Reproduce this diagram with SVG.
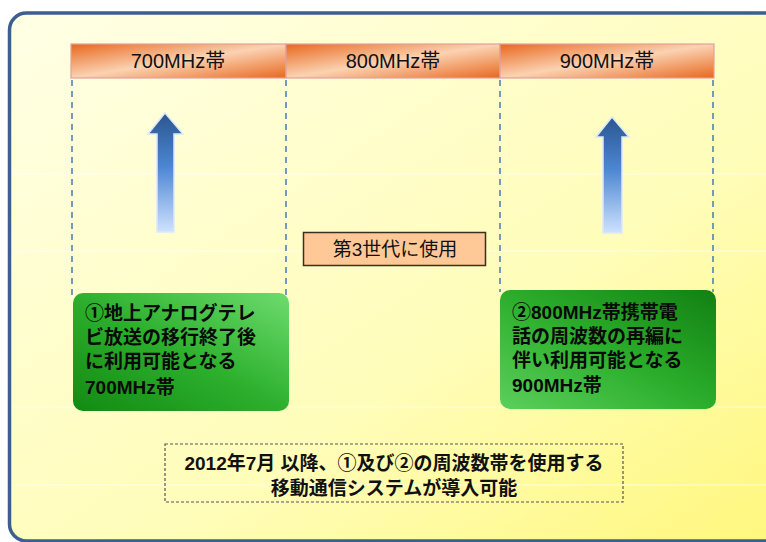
<svg xmlns="http://www.w3.org/2000/svg" width="766" height="542" viewBox="0 0 766 542">
<defs>
<linearGradient id="bg" x1="0" y1="0" x2="1" y2="1">
<stop offset="0" stop-color="#FFFFE6"/>
<stop offset="0.6" stop-color="#FFFDB8"/>
<stop offset="1" stop-color="#FFF77A"/>
</linearGradient>
<linearGradient id="hdr" x1="0" y1="0" x2="1" y2="1">
<stop offset="0" stop-color="#E8681E"/>
<stop offset="0.5" stop-color="#FBD2B2"/>
<stop offset="1" stop-color="#E8681E"/>
</linearGradient>
<linearGradient id="arr" x1="0" y1="0" x2="0" y2="1">
<stop offset="0" stop-color="#2A568F"/>
<stop offset="0.45" stop-color="#4C86D2"/>
<stop offset="1" stop-color="#CFE2FF"/>
</linearGradient>
<linearGradient id="g1" x1="0" y1="1" x2="1" y2="0">
<stop offset="0" stop-color="#128A12"/>
<stop offset="0.5" stop-color="#2DB02D"/>
<stop offset="1" stop-color="#6EDC6E"/>
</linearGradient>
<linearGradient id="g2" x1="1" y1="0" x2="0" y2="1">
<stop offset="0" stop-color="#128012"/>
<stop offset="0.5" stop-color="#2BAE2B"/>
<stop offset="1" stop-color="#5CCF5C"/>
</linearGradient>
</defs>
<style>
.hc{fill:url(#hdr);stroke:#E2A0A0;stroke-width:1.2}
.ht{font-family:"Liberation Sans","Noto Sans CJK JP",sans-serif;font-size:20px;fill:#111;text-anchor:middle}
.dash{stroke:#4A78B8;stroke-width:1.5;stroke-dasharray:6 5;fill:none}
.arrow{fill:url(#arr);stroke:#DCE8FA;stroke-width:1.5}
.gb{stroke:none}
.gt{font-family:"Liberation Sans","Noto Sans CJK JP",sans-serif;font-size:19px;font-weight:bold;fill:#0A0A0A}
.bt{font-family:"Liberation Sans","Noto Sans CJK JP",sans-serif;font-size:19px;font-weight:bold;fill:#111;text-anchor:middle}
.art{stroke:#FFFFFF;stroke-width:1;opacity:0.7}
</style>
<rect x="0" y="0" width="766" height="542" fill="#FFFFFF"/>
<g id="frame">
<rect x="9.5" y="13" width="800" height="528" rx="17" fill="url(#bg)" stroke="#3D5F8E" stroke-width="3.5"/>
</g>
<g id="artifacts">
<line class="art" x1="12" y1="174" x2="766" y2="174"/>
<line class="art" x1="12" y1="251" x2="766" y2="251"/>
<line class="art" x1="12" y1="407" x2="766" y2="407"/>
<line class="art" x1="12" y1="485" x2="766" y2="485"/>
</g>
<g id="connectors">
<line class="dash" x1="72" y1="80" x2="72" y2="296"/>
<line class="dash" x1="286" y1="80" x2="286" y2="296"/>
<line class="dash" x1="500" y1="80" x2="500" y2="292"/>
<line class="dash" x1="713" y1="80" x2="713" y2="292"/>
</g>
<g id="band700">
<rect class="hc" x="71" y="44" width="215" height="34"/>
<text class="ht" x="178" y="68">700MHz帯</text>
</g>
<g id="band800">
<rect class="hc" x="286" y="44" width="214" height="34"/>
<text class="ht" x="393" y="68">800MHz帯</text>
</g>
<g id="band900">
<rect class="hc" x="500" y="44" width="214" height="34"/>
<text class="ht" x="607" y="68">900MHz帯</text>
</g>
<g id="arrow1">
<path class="arrow" d="M165,113 L183,134 L174,134 L174,232 L157,232 L157,134 L148,134 Z"/>
</g>
<g id="arrow2">
<path class="arrow" d="M612,117 L629,137 L622,137 L622,233 L603,233 L603,137 L596,137 Z"/>
</g>
<g id="gen3">
<rect x="303.5" y="232.5" width="182" height="33" fill="#FFC896" stroke="#3A3020" stroke-width="1.5"/>
<text class="ht" x="395" y="256" style="font-size:19px">第3世代に使用</text>
</g>
<g id="box1">
<rect class="gb" x="73" y="293" width="216" height="118" rx="10" fill="url(#g1)"/>
<text class="gt" x="85" y="320">①地上アナログテレ</text>
<text class="gt" x="85" y="344">ビ放送の移行終了後</text>
<text class="gt" x="85" y="368">に利用可能となる</text>
<text class="gt" x="85" y="394">700MHz帯</text>
</g>
<g id="box2">
<rect class="gb" x="500" y="290" width="216" height="119" rx="10" fill="url(#g2)"/>
<text class="gt" x="512" y="319">②800MHz帯携帯電</text>
<text class="gt" x="512" y="343">話の周波数の再編に</text>
<text class="gt" x="512" y="367">伴い利用可能となる</text>
<text class="gt" x="512" y="392">900MHz帯</text>
</g>
<g id="note">
<rect x="165" y="444" width="458" height="58" fill="none" stroke="#555" stroke-width="1.2" stroke-dasharray="3 2"/>
<text class="bt" x="394" y="470">2012年7月 以降、①及び②の周波数帯を使用する</text>
<text class="bt" x="394" y="495">移動通信システムが導入可能</text>
</g>
</svg>
